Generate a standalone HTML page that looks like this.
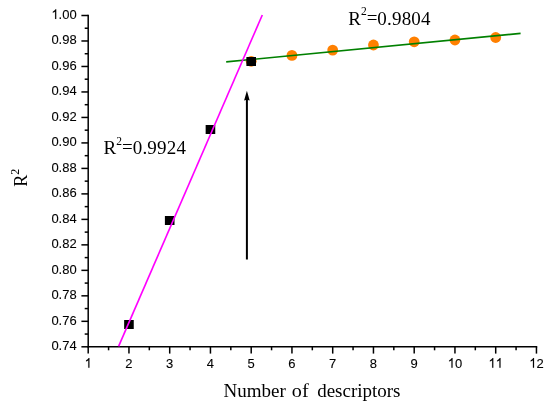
<!DOCTYPE html>
<html><head><meta charset="utf-8"><style>
html,body{margin:0;padding:0;background:#fff;}
body{width:550px;height:407px;overflow:hidden;}
svg{display:block;will-change:transform;}
.t{font-family:"Liberation Sans",sans-serif;font-size:13px;fill:#000;stroke:#000;stroke-width:0.1px;}
.s{font-family:"Liberation Serif",serif;font-size:19px;fill:#000;}
.s2{font-family:"Liberation Serif",serif;font-size:18px;fill:#000;}
</style></head><body>
<svg width="550" height="407" viewBox="0 0 550 407">
<line x1="88.2" y1="14.7" x2="88.2" y2="347.6" stroke="#000" stroke-width="1.5"/>
<line x1="87.4" y1="346.8" x2="537.25" y2="346.8" stroke="#000" stroke-width="1.5"/>
<line x1="81.4" y1="346.80" x2="88.2" y2="346.80" stroke="#000" stroke-width="1.5"/>
<g transform="translate(0,350.25) scale(1,1.035)"><text x="51.40 58.63 62.24 69.47" y="0" class="t">0.74</text></g>
<line x1="84.7" y1="334.06" x2="88.2" y2="334.06" stroke="#000" stroke-width="1.5"/>
<line x1="81.4" y1="321.32" x2="88.2" y2="321.32" stroke="#000" stroke-width="1.5"/>
<g transform="translate(0,324.77) scale(1,1.035)"><text x="51.40 58.63 62.24 69.47" y="0" class="t">0.76</text></g>
<line x1="84.7" y1="308.57" x2="88.2" y2="308.57" stroke="#000" stroke-width="1.5"/>
<line x1="81.4" y1="295.83" x2="88.2" y2="295.83" stroke="#000" stroke-width="1.5"/>
<g transform="translate(0,299.28) scale(1,1.035)"><text x="51.40 58.63 62.24 69.47" y="0" class="t">0.78</text></g>
<line x1="84.7" y1="283.09" x2="88.2" y2="283.09" stroke="#000" stroke-width="1.5"/>
<line x1="81.4" y1="270.35" x2="88.2" y2="270.35" stroke="#000" stroke-width="1.5"/>
<g transform="translate(0,273.80) scale(1,1.035)"><text x="51.40 58.63 62.24 69.47" y="0" class="t">0.80</text></g>
<line x1="84.7" y1="257.60" x2="88.2" y2="257.60" stroke="#000" stroke-width="1.5"/>
<line x1="81.4" y1="244.86" x2="88.2" y2="244.86" stroke="#000" stroke-width="1.5"/>
<g transform="translate(0,248.31) scale(1,1.035)"><text x="51.40 58.63 62.24 69.47" y="0" class="t">0.82</text></g>
<line x1="84.7" y1="232.12" x2="88.2" y2="232.12" stroke="#000" stroke-width="1.5"/>
<line x1="81.4" y1="219.38" x2="88.2" y2="219.38" stroke="#000" stroke-width="1.5"/>
<g transform="translate(0,222.83) scale(1,1.035)"><text x="51.40 58.63 62.24 69.47" y="0" class="t">0.84</text></g>
<line x1="84.7" y1="206.63" x2="88.2" y2="206.63" stroke="#000" stroke-width="1.5"/>
<line x1="81.4" y1="193.89" x2="88.2" y2="193.89" stroke="#000" stroke-width="1.5"/>
<g transform="translate(0,197.34) scale(1,1.035)"><text x="51.40 58.63 62.24 69.47" y="0" class="t">0.86</text></g>
<line x1="84.7" y1="181.15" x2="88.2" y2="181.15" stroke="#000" stroke-width="1.5"/>
<line x1="81.4" y1="168.41" x2="88.2" y2="168.41" stroke="#000" stroke-width="1.5"/>
<g transform="translate(0,171.86) scale(1,1.035)"><text x="51.40 58.63 62.24 69.47" y="0" class="t">0.88</text></g>
<line x1="84.7" y1="155.67" x2="88.2" y2="155.67" stroke="#000" stroke-width="1.5"/>
<line x1="81.4" y1="142.92" x2="88.2" y2="142.92" stroke="#000" stroke-width="1.5"/>
<g transform="translate(0,146.37) scale(1,1.035)"><text x="51.40 58.63 62.24 69.47" y="0" class="t">0.90</text></g>
<line x1="84.7" y1="130.18" x2="88.2" y2="130.18" stroke="#000" stroke-width="1.5"/>
<line x1="81.4" y1="117.44" x2="88.2" y2="117.44" stroke="#000" stroke-width="1.5"/>
<g transform="translate(0,120.89) scale(1,1.035)"><text x="51.40 58.63 62.24 69.47" y="0" class="t">0.92</text></g>
<line x1="84.7" y1="104.70" x2="88.2" y2="104.70" stroke="#000" stroke-width="1.5"/>
<line x1="81.4" y1="91.95" x2="88.2" y2="91.95" stroke="#000" stroke-width="1.5"/>
<g transform="translate(0,95.40) scale(1,1.035)"><text x="51.40 58.63 62.24 69.47" y="0" class="t">0.94</text></g>
<line x1="84.7" y1="79.21" x2="88.2" y2="79.21" stroke="#000" stroke-width="1.5"/>
<line x1="81.4" y1="66.47" x2="88.2" y2="66.47" stroke="#000" stroke-width="1.5"/>
<g transform="translate(0,69.92) scale(1,1.035)"><text x="51.40 58.63 62.24 69.47" y="0" class="t">0.96</text></g>
<line x1="84.7" y1="53.73" x2="88.2" y2="53.73" stroke="#000" stroke-width="1.5"/>
<line x1="81.4" y1="40.98" x2="88.2" y2="40.98" stroke="#000" stroke-width="1.5"/>
<g transform="translate(0,44.43) scale(1,1.035)"><text x="51.40 58.63 62.24 69.47" y="0" class="t">0.98</text></g>
<line x1="84.7" y1="28.24" x2="88.2" y2="28.24" stroke="#000" stroke-width="1.5"/>
<line x1="81.4" y1="15.50" x2="88.2" y2="15.50" stroke="#000" stroke-width="1.5"/>
<g transform="translate(0,18.95) scale(1,1.035)"><text x="58.63 62.24 69.47" y="0" class="t">.00</text><path d="M56.24,0.00 L55.10,0.00 L55.10,-7.28 Q54.69,-6.89 54.01,-6.49 Q53.34,-6.10 52.80,-5.90 L52.80,-7.00 Q53.76,-7.45 54.48,-8.10 Q55.19,-8.73 55.53,-9.31 L56.24,-9.31 Z" class="t"/></g>
<line x1="88.20" y1="346.8" x2="88.20" y2="353.6" stroke="#000" stroke-width="1.5"/>
<g transform="translate(0,367.70) scale(1,1.035)"><path d="M89.43,0.00 L88.29,0.00 L88.29,-7.28 Q87.87,-6.89 87.20,-6.49 Q86.53,-6.10 85.99,-5.90 L85.99,-7.00 Q86.95,-7.45 87.66,-8.10 Q88.38,-8.73 88.72,-9.31 L89.43,-9.31 Z" class="t"/></g>
<line x1="108.58" y1="346.8" x2="108.58" y2="350.3" stroke="#000" stroke-width="1.5"/>
<line x1="128.95" y1="346.8" x2="128.95" y2="353.6" stroke="#000" stroke-width="1.5"/>
<g transform="translate(0,367.70) scale(1,1.035)"><text x="125.34" y="0" class="t">2</text></g>
<line x1="149.32" y1="346.8" x2="149.32" y2="350.3" stroke="#000" stroke-width="1.5"/>
<line x1="169.70" y1="346.8" x2="169.70" y2="353.6" stroke="#000" stroke-width="1.5"/>
<g transform="translate(0,367.70) scale(1,1.035)"><text x="166.09" y="0" class="t">3</text></g>
<line x1="190.07" y1="346.8" x2="190.07" y2="350.3" stroke="#000" stroke-width="1.5"/>
<line x1="210.45" y1="346.8" x2="210.45" y2="353.6" stroke="#000" stroke-width="1.5"/>
<g transform="translate(0,367.70) scale(1,1.035)"><text x="206.84" y="0" class="t">4</text></g>
<line x1="230.82" y1="346.8" x2="230.82" y2="350.3" stroke="#000" stroke-width="1.5"/>
<line x1="251.20" y1="346.8" x2="251.20" y2="353.6" stroke="#000" stroke-width="1.5"/>
<g transform="translate(0,367.70) scale(1,1.035)"><text x="247.59" y="0" class="t">5</text></g>
<line x1="271.57" y1="346.8" x2="271.57" y2="350.3" stroke="#000" stroke-width="1.5"/>
<line x1="291.95" y1="346.8" x2="291.95" y2="353.6" stroke="#000" stroke-width="1.5"/>
<g transform="translate(0,367.70) scale(1,1.035)"><text x="288.34" y="0" class="t">6</text></g>
<line x1="312.32" y1="346.8" x2="312.32" y2="350.3" stroke="#000" stroke-width="1.5"/>
<line x1="332.70" y1="346.8" x2="332.70" y2="353.6" stroke="#000" stroke-width="1.5"/>
<g transform="translate(0,367.70) scale(1,1.035)"><text x="329.09" y="0" class="t">7</text></g>
<line x1="353.07" y1="346.8" x2="353.07" y2="350.3" stroke="#000" stroke-width="1.5"/>
<line x1="373.45" y1="346.8" x2="373.45" y2="353.6" stroke="#000" stroke-width="1.5"/>
<g transform="translate(0,367.70) scale(1,1.035)"><text x="369.84" y="0" class="t">8</text></g>
<line x1="393.82" y1="346.8" x2="393.82" y2="350.3" stroke="#000" stroke-width="1.5"/>
<line x1="414.20" y1="346.8" x2="414.20" y2="353.6" stroke="#000" stroke-width="1.5"/>
<g transform="translate(0,367.70) scale(1,1.035)"><text x="410.59" y="0" class="t">9</text></g>
<line x1="434.57" y1="346.8" x2="434.57" y2="350.3" stroke="#000" stroke-width="1.5"/>
<line x1="454.95" y1="346.8" x2="454.95" y2="353.6" stroke="#000" stroke-width="1.5"/>
<g transform="translate(0,367.70) scale(1,1.035)"><text x="454.95" y="0" class="t">0</text><path d="M452.56,0.00 L451.42,0.00 L451.42,-7.28 Q451.01,-6.89 450.34,-6.49 Q449.66,-6.10 449.12,-5.90 L449.12,-7.00 Q450.08,-7.45 450.80,-8.10 Q451.52,-8.73 451.85,-9.31 L452.56,-9.31 Z" class="t"/></g>
<line x1="475.32" y1="346.8" x2="475.32" y2="350.3" stroke="#000" stroke-width="1.5"/>
<line x1="495.70" y1="346.8" x2="495.70" y2="353.6" stroke="#000" stroke-width="1.5"/>
<g transform="translate(0,367.70) scale(1,1.035)"><path d="M493.31,0.00 L492.17,0.00 L492.17,-7.28 Q491.76,-6.89 491.09,-6.49 Q490.41,-6.10 489.87,-5.90 L489.87,-7.00 Q490.83,-7.45 491.55,-8.10 Q492.27,-8.73 492.60,-9.31 L493.31,-9.31 Z" class="t"/><path d="M500.54,0.00 L499.40,0.00 L499.40,-7.28 Q498.99,-6.89 498.32,-6.49 Q497.64,-6.10 497.10,-5.90 L497.10,-7.00 Q498.06,-7.45 498.78,-8.10 Q499.50,-8.73 499.83,-9.31 L500.54,-9.31 Z" class="t"/></g>
<line x1="516.08" y1="346.8" x2="516.08" y2="350.3" stroke="#000" stroke-width="1.5"/>
<line x1="536.45" y1="346.8" x2="536.45" y2="353.6" stroke="#000" stroke-width="1.5"/>
<g transform="translate(0,367.70) scale(1,1.035)"><text x="536.45" y="0" class="t">2</text><path d="M534.06,0.00 L532.92,0.00 L532.92,-7.28 Q532.51,-6.89 531.84,-6.49 Q531.16,-6.10 530.62,-5.90 L530.62,-7.00 Q531.58,-7.45 532.30,-8.10 Q533.02,-8.73 533.35,-9.31 L534.06,-9.31 Z" class="t"/></g>
<circle cx="291.95" cy="55.4" r="5.4" fill="#FF8000"/>
<circle cx="332.70" cy="50.1" r="5.4" fill="#FF8000"/>
<circle cx="373.45" cy="45.0" r="5.4" fill="#FF8000"/>
<circle cx="414.20" cy="41.8" r="5.4" fill="#FF8000"/>
<circle cx="454.95" cy="40.0" r="5.4" fill="#FF8000"/>
<circle cx="495.70" cy="37.5" r="5.4" fill="#FF8000"/>
<circle cx="251.20" cy="61.3" r="5.4" fill="#FF8000"/>
<line x1="226.2" y1="61.9" x2="520.6" y2="33.4" stroke="#008000" stroke-width="1.6"/>
<rect x="124.15" y="320.00" width="9.6" height="9.0" fill="#000"/>
<rect x="164.90" y="216.00" width="9.6" height="9.0" fill="#000"/>
<rect x="205.65" y="125.00" width="9.6" height="9.0" fill="#000"/>
<rect x="246.40" y="57.00" width="9.6" height="9.0" fill="#000"/>
<line x1="118.6" y1="346.3" x2="262.3" y2="15.0" stroke="#FF00FF" stroke-width="1.65"/>
<line x1="246.9" y1="259.5" x2="246.9" y2="98" stroke="#000" stroke-width="2"/>
<path d="M246.9,90.8 L249.7,100.6 L246.9,99.8 L244.1,100.6 Z" fill="#000"/>
<text x="348.2" y="24.5" class="s">R<tspan dy="-9.2" font-size="11.5">2</tspan><tspan dy="8.4">=</tspan><tspan dy="0.8" letter-spacing="0.18">0.9804</tspan></text>
<text x="103.6" y="153.8" class="s">R<tspan dy="-9.2" font-size="11.5">2</tspan><tspan dy="8.4">=</tspan><tspan dy="0.8" letter-spacing="0.18">0.9924</tspan></text>
<text x="223.6" y="397.2" class="s2" textLength="62.3" lengthAdjust="spacingAndGlyphs">Number</text>
<text x="291.8" y="397.2" class="s2" textLength="16.8" lengthAdjust="spacingAndGlyphs">of</text>
<text x="317.2" y="397.2" class="s2" textLength="83.3" lengthAdjust="spacingAndGlyphs">descriptors</text>
<text transform="translate(27,186.8) rotate(-90)" class="s2">R<tspan dy="-8" font-size="12">2</tspan></text>
</svg>
</body></html>
